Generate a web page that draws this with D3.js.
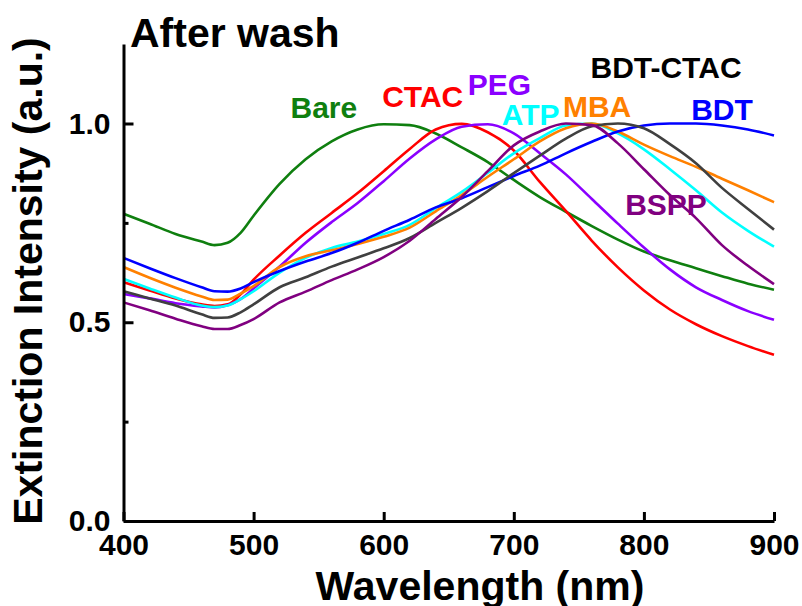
<!DOCTYPE html>
<html>
  <head>
    <meta charset="utf-8">
    <title>After wash - extinction spectra</title>
    <script src="https://d3js.org/d3.v7.min.js"></script>
    <style>
      body { margin: 0; background: #fff; }
      text { font-family: "Liberation Sans", Arial, sans-serif; font-weight: bold; }
    </style>
  </head>
  <body>
    <div id="chart"></div>

    <script>
      // wavelengths (nm) shared by all spectra
      const wavelength = [400, 420, 440, 460, 470, 480, 490, 500, 520, 540, 560, 580, 600, 620, 640,
                          660, 680, 700, 720, 740, 760, 780, 800, 820, 840, 860, 880, 900];

      // normalized extinction
      const bare    = [.773, .748, .722, .703, .694, .700, .725, .768, .848, .910, .955, .985, .998, .996, .975,
                       .940, .903, .858, .815, .778, .742, .708, .678, .656, .636, .616, .597, .582];
      const ctac    = [.601, .580, .560, .545, .541, .545, .570, .607, .668, .725, .775, .825, .880, .936, .985,
                       .999, .978, .932, .853, .780, .705, .638, .580, .532, .495, .465, .440, .418];
      const peg     = [.571, .560, .548, .540, .537, .543, .558, .585, .640, .700, .752, .800, .855, .912, .960,
                       .992, .998, .975, .925, .872, .810, .748, .688, .633, .588, .556, .528, .506];
      const atp     = [.609, .585, .562, .542, .538, .542, .558, .578, .625, .662, .687, .703, .722, .745, .787,
                       .828, .876, .925, .963, .995, 1.00, .975, .935, .885, .832, .776, .730, .690];
      const mba     = [.639, .612, .587, .565, .556, .557, .572, .591, .639, .666, .681, .697, .715, .738, .779,
                       .820, .866, .910, .955, .988, 1.00, .980, .947, .918, .891, .861, .832, .802];
      const bdt     = [.662, .636, .611, .588, .578, .577, .585, .601, .629, .653, .674, .700, .730, .758, .789,
                       .812, .840, .868, .894, .925, .954, .980, .995, 1.00, 1.00, .995, .985, .970];
      const bdtCtac = [.578, .560, .542, .520, .511, .512, .525, .545, .588, .613, .640, .663, .686, .712, .750,
                       .788, .830, .875, .919, .962, .993, 1.00, .988, .948, .900, .838, .785, .733];
      const bspp    = [.550, .530, .509, .490, .483, .483, .493, .508, .550, .577, .606, .633, .664, .705, .760,
                       .815, .880, .945, .980, 1.00, .996, .950, .885, .820, .762, .694, .642, .596];

      const seriesNames  = ['Bare', 'CTAC', 'PEG', 'ATP', 'MBA', 'BDT', 'BDT-CTAC', 'BSPP'];
      const seriesValues = [bare, ctac, peg, atp, mba, bdt, bdtCtac, bspp];
      const lineColors   = ['#0f7f0f', '#ff0000', '#8a00ff', '#00ffff', '#ff8000', '#0000ff', '#404040', '#800080'];
      const labelColors  = ['#0f7f0f', '#ff0000', '#8a00ff', '#00ffff', '#ff8000', '#0000ff', '#000000', '#800080'];
      // label anchor points in data units (wavelength, intensity), text centred on them
      const labelAt = [[554, 1.014], [630, 1.042], [689, 1.072], [713, 0.997], [764, 1.016],
                       [860, 1.008], [817, 1.114], [817, 0.77]];

      const xTicks = [400, 500, 600, 700, 800, 900];
      const yTicks = [0.0, 0.5, 1.0];
      const yMinor = [0.25, 0.75];

      const width = 802, height = 606;
      const svg = d3.select('#chart').append('svg')
        .attr('width', width)
        .attr('height', height);

      const x = d3.scaleLinear().domain([400, 900]).range([123.5, 774]);
      const y = d3.scaleLinear().domain([0, 1.2]).range([521, 44]);

      // spectra
      const line = d3.line()
        .x((d, i) => x(wavelength[i]))
        .y(d => y(d))
        .curve(d3.curveMonotoneX);

      svg.append('g')
        .selectAll('path')
        .data(seriesValues)
        .enter()
        .append('path')
        .attr('d', line)
        .attr('fill', 'none')
        .attr('stroke', (d, i) => lineColors[i])
        .attr('stroke-width', 2.6);

      // axes
      svg.append('g')
        .attr('transform', 'translate(0,521)')
        .call(d3.axisBottom(x).tickValues(xTicks).tickFormat(d3.format('d'))
          .tickSize(-9).tickSizeOuter(0).tickPadding(13));

      svg.append('g')
        .attr('transform', 'translate(123.5,0)')
        .call(d3.axisLeft(y).tickValues(yTicks).tickFormat(d3.format('.1f'))
          .tickSize(-10).tickSizeOuter(0).tickPadding(13));

      svg.append('g')
        .attr('transform', 'translate(123.5,0)')
        .call(d3.axisLeft(y).tickValues(yMinor).tickFormat('').tickSize(-5).tickSizeOuter(0))
        .call(g => g.select('.domain').remove());

      svg.selectAll('.domain, .tick line')
        .attr('stroke', '#000')
        .attr('stroke-width', 3);

      svg.selectAll('.tick text')
        .attr('fill', '#000')
        .style('font-size', '30px')
        .style('font-family', '"Liberation Sans", Arial, sans-serif')
        .style('font-weight', 'bold');

      // series labels
      svg.append('g')
        .selectAll('text')
        .data(seriesNames)
        .enter()
        .append('text')
        .attr('x', (d, i) => x(labelAt[i][0]))
        .attr('y', (d, i) => y(labelAt[i][1]))
        .attr('text-anchor', 'middle')
        .attr('fill', (d, i) => labelColors[i])
        .style('font-size', '30px')
        .text(d => d);

      // titles
      svg.append('text')
        .attr('x', 130)
        .attr('y', 47)
        .style('font-size', '41px')
        .text('After wash');

      svg.append('text')
        .attr('x', 480)
        .attr('y', 600)
        .attr('text-anchor', 'middle')
        .style('font-size', '41px')
        .text('Wavelength (nm)');

      svg.append('text')
        .attr('transform', 'translate(42,281) rotate(-90)')
        .attr('text-anchor', 'middle')
        .style('font-size', '41px')
        .text('Extinction Intensity (a.u.)');
    </script>
  </body>
</html>
